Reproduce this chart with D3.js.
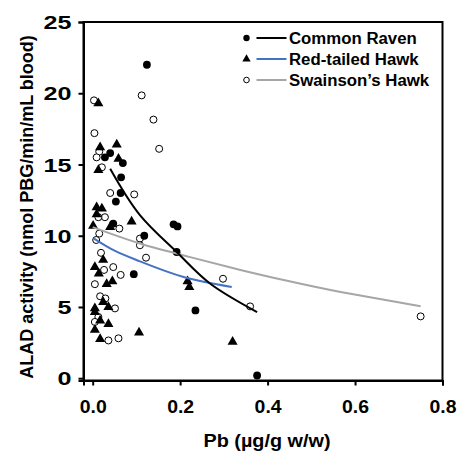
<!DOCTYPE html>
<html>
<head>
<meta charset="utf-8">
<script src="https://cdn.jsdelivr.net/npm/d3@7"></script>
<style>
  body { margin: 0; background: #fff; }
  text { font-family: "Liberation Sans", Arial, sans-serif; font-weight: bold; fill: #000; }
</style>
</head>
<body>
<div id="chart"></div>
<script>
// points: [Pb, ALAD]
const ravenPts = [
  [0.124, 22.0], [0.028, 15.5], [0.040, 15.8], [0.069, 15.1], [0.065, 14.1],
  [0.064, 13.0], [0.053, 12.4], [0.047, 10.85], [0.118, 10.0], [0.185, 10.8],
  [0.194, 10.65], [0.192, 8.86], [0.094, 7.3], [0.235, 4.76], [0.376, 0.19]
];
const hawkPts = [
  [0.013, 19.3], [0.017, 16.2], [0.055, 16.4], [0.059, 15.4], [0.013, 14.6],
  [0.009, 12.0], [0.021, 11.9], [0.009, 11.5], [0.001, 10.7], [0.040, 10.6],
  [0.089, 11.0], [0.024, 8.3], [0.005, 7.8], [0.014, 7.35], [0.032, 6.6],
  [0.045, 6.8], [0.217, 6.8], [0.221, 6.4], [0.024, 5.35], [0.036, 5.0],
  [0.005, 4.9], [0.005, 4.64], [0.017, 4.05], [0.036, 3.8], [0.005, 3.4],
  [0.106, 3.2], [0.017, 2.75], [0.320, 2.56]
];
const swainsonPts = [
  [0.003, 19.5], [0.112, 19.85], [0.139, 18.15], [0.004, 17.2], [0.152, 16.1],
  [0.015, 15.9], [0.009, 15.5], [0.021, 14.8], [0.040, 13.0], [0.095, 12.9],
  [0.028, 11.3], [0.013, 11.3], [0.061, 10.5], [0.015, 10.15], [0.008, 9.7],
  [0.108, 9.8], [0.108, 9.33], [0.122, 8.46], [0.019, 8.8], [0.026, 7.6],
  [0.047, 7.8], [0.064, 7.25], [0.005, 6.6], [0.017, 5.75], [0.029, 5.6],
  [0.051, 4.9], [0.013, 4.3], [0.005, 3.95], [0.036, 2.65], [0.059, 2.8],
  [0.298, 6.98], [0.360, 5.04], [0.750, 4.34]
];

// fitted curves
const ravenFit = [[0.040, 14.7], [0.108, 11.45], [0.192, 8.86], [0.269, 6.63], [0.376, 4.64]];
const hawkFit = [[0.003, 9.8], [0.05, 8.95], [0.108, 8.2], [0.208, 7.1], [0.318, 6.4]];
const swainsonFit = [[0.0, 10.6], [0.108, 9.45], [0.223, 8.5], [0.338, 7.6], [0.45, 6.8], [0.567, 6.05], [0.75, 5.05]];

const xTicks = [0, 0.2, 0.4, 0.6, 0.8];
const yTicks = [0, 5, 10, 15, 20, 25];
const seriesNames = ["Common Raven", "Red-tailed Hawk", "Swainson\u2019s Hawk"];

const width = 458, height = 453;
const m = { l: 83.5, r: 442.5, t: 22, b: 380.5 };

const svg = d3.select("#chart").append("svg")
  .attr("width", width)
  .attr("height", height);

const x = d3.scaleLinear().domain([-0.021, 0.8]).range([m.l, m.r]);
const y = d3.scaleLinear().domain([-0.16, 25]).range([m.b, m.t]);

// frame
svg.append("rect")
  .attr("x", m.l).attr("y", m.t)
  .attr("width", m.r - m.l).attr("height", m.b - m.t)
  .attr("fill", "none").attr("stroke", "#000").attr("stroke-width", 2);

// axes
const xAxis = svg.append("g")
  .attr("transform", `translate(0,${m.b})`)
  .call(d3.axisBottom(x).tickValues(xTicks).tickFormat(d3.format(".1f")).tickSize(5));
const yAxis = svg.append("g")
  .attr("transform", `translate(${m.l},0)`)
  .call(d3.axisLeft(y).tickValues(yTicks).tickSize(5).tickPadding(7));
[xAxis, yAxis].forEach(g => {
  g.select(".domain").attr("stroke-width", 2);
  g.selectAll(".tick line").attr("stroke-width", 2);
  g.selectAll("text")
    .attr("font-size", 18.5)
    .attr("lengthAdjust", "spacingAndGlyphs")
    .style("font-family", "Liberation Sans, Arial, sans-serif")
    .style("font-weight", "bold");
});
xAxis.selectAll("text").attr("y", 32.5).attr("dy", 0).attr("textLength", 27);
yAxis.selectAll("text").attr("dy", "0.36em")
  .attr("textLength", d => String(d).length * 14);

// axis titles
svg.append("text")
  .attr("x", 267).attr("y", 447)
  .attr("text-anchor", "middle").attr("font-size", 18)
  .attr("textLength", 127).attr("lengthAdjust", "spacingAndGlyphs")
  .text("Pb (\u00b5g/g w/w)");
svg.append("text")
  .attr("transform", "translate(33,207) rotate(-90)")
  .attr("text-anchor", "middle").attr("font-size", 18)
  .text("ALAD activity (nmol PBG/min/mL blood)");

// markers
const tri = d3.symbol().type(d3.symbolTriangle).size(44);

svg.append("g").selectAll("circle")
  .data(swainsonPts).join("circle")
  .attr("cx", d => x(d[0])).attr("cy", d => y(d[1])).attr("r", 3.5)
  .attr("fill", "#fff").attr("stroke", "#000").attr("stroke-width", 1);

svg.append("g").selectAll("path")
  .data(hawkPts).join("path")
  .attr("d", tri)
  .attr("transform", d => `translate(${x(d[0])},${y(d[1])})`)
  .attr("fill", "#000");

svg.append("g").selectAll("circle")
  .data(ravenPts).join("circle")
  .attr("cx", d => x(d[0])).attr("cy", d => y(d[1])).attr("r", 3.9)
  .attr("fill", "#000");

// fit lines
const line = d3.line().x(d => x(d[0])).y(d => y(d[1])).curve(d3.curveNatural);
const fits = [
  { data: swainsonFit, color: "#a6a6a6" },
  { data: hawkFit, color: "#4472c4" },
  { data: ravenFit, color: "#000" }
];
svg.append("g").selectAll("path")
  .data(fits).join("path")
  .attr("d", d => line(d.data))
  .attr("fill", "none")
  .attr("stroke", d => d.color)
  .attr("stroke-width", 2);

// legend
const legendColors = ["#000", "#4472c4", "#a6a6a6"];
const lg = svg.append("g").selectAll("g")
  .data(seriesNames).join("g")
  .attr("transform", (d, i) => `translate(0,${[38, 59, 80][i]})`);
lg.append("line")
  .attr("x1", 256.5).attr("x2", 286.5)
  .attr("stroke", (d, i) => legendColors[i]).attr("stroke-width", 2);
lg.append("text")
  .attr("x", 289).attr("dy", "0.36em").attr("font-size", 16.8)
  .text(d => d);
lg.filter((d, i) => i === 0).append("circle")
  .attr("cx", 246.5).attr("r", 3.2).attr("fill", "#000");
lg.filter((d, i) => i === 1).append("path")
  .attr("d", d3.symbol().type(d3.symbolTriangle).size(30))
  .attr("transform", "translate(246.5,0)").attr("fill", "#000");
lg.filter((d, i) => i === 2).append("circle")
  .attr("cx", 246.5).attr("r", 2.8).attr("fill", "#fff").attr("stroke", "#000");
</script>
</body>
</html>
